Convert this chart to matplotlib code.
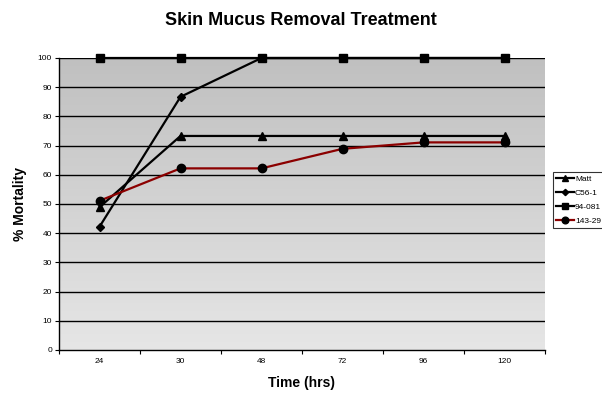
import matplotlib
matplotlib.use("Agg")
import matplotlib.pyplot as plt
import numpy as np

# data
times = ["24", "30", "48", "72", "96", "120"]
matt = [48.9, 73.3, 73.3, 73.3, 73.3, 73.3]
c56_1 = [42.2, 86.7, 100, 100, 100, 100]
s94_081 = [100, 100, 100, 100, 100, 100]
s143_29 = [51.1, 62.2, 62.2, 68.9, 71.1, 71.1]

plt.rcParams['font.family'] = ['Liberation Sans', 'DejaVu Sans']

fig = plt.figure(figsize=(6.02, 3.96), dpi=100)
ax = fig.add_axes([59 / 602, 46 / 396, 486 / 602, 292 / 396])

n = len(times)
x = np.arange(n)
ax.set_xlim(-0.5, n - 0.5)
ax.set_ylim(0, 100)

# gradient background (darker at top)
grad = np.linspace(0, 1, 256).reshape(-1, 1)
cmap = matplotlib.colors.LinearSegmentedColormap.from_list("g", ["#e6e6e6", "#c0c0c0"])
ax.imshow(grad, extent=[-0.5, n - 0.5, 0, 100], aspect="auto", origin="lower",
          cmap=cmap, zorder=0)

for yv in range(10, 101, 10):
    ax.axhline(yv, color="black", lw=1.0, zorder=1)

ax.plot(x, matt, color="black", lw=1.6, marker="^", ms=5.5, label="Matt",
        zorder=3, clip_on=False)
ax.plot(x, c56_1, color="black", lw=1.6, marker="D", ms=4, label="C56-1",
        zorder=3, clip_on=False)
ax.plot(x, s94_081, color="black", lw=1.6, marker="s", ms=5.5, label="94-081",
        zorder=3, clip_on=False)
ax.plot(x, s143_29, color="#8b0000", lw=1.6, marker="o", ms=6, mfc="black",
        mec="black", label="143-29", zorder=4, clip_on=False)

for s in ["top", "right"]:
    ax.spines[s].set_visible(False)
ax.spines["left"].set_linewidth(1.0)
ax.spines["bottom"].set_linewidth(1.0)

ax.set_yticks(range(0, 101, 10))
ax.tick_params(axis="y", labelsize=6, length=3, pad=2)
ax.set_xticks(np.arange(-0.5, n, 1))
ax.set_xticklabels([])
ax.set_xticks(x, minor=True)
ax.set_xticklabels(times, minor=True)
ax.tick_params(axis="x", which="major", length=3)
ax.tick_params(axis="x", which="minor", length=0, labelsize=6, pad=6)

ax.set_xlabel("Time (hrs)", fontsize=10, fontweight="bold", labelpad=8)
ax.set_ylabel("% Mortality", fontsize=10, fontweight="bold", labelpad=8)
fig.suptitle("Skin Mucus Removal Treatment", fontsize=13, fontweight="bold", y=0.97)

leg = ax.legend(loc="upper left", bbox_to_anchor=(553 / 602, (396 - 172) / 396),
                bbox_transform=fig.transFigure, fontsize=6, frameon=True,
                fancybox=False, edgecolor="black", borderaxespad=0,
                handlelength=2.2, labelspacing=0.75, borderpad=0.35,
                handletextpad=0.1, markerscale=0.8)
leg.get_frame().set_linewidth(0.8)

fig.savefig("out.png", dpi=100)
